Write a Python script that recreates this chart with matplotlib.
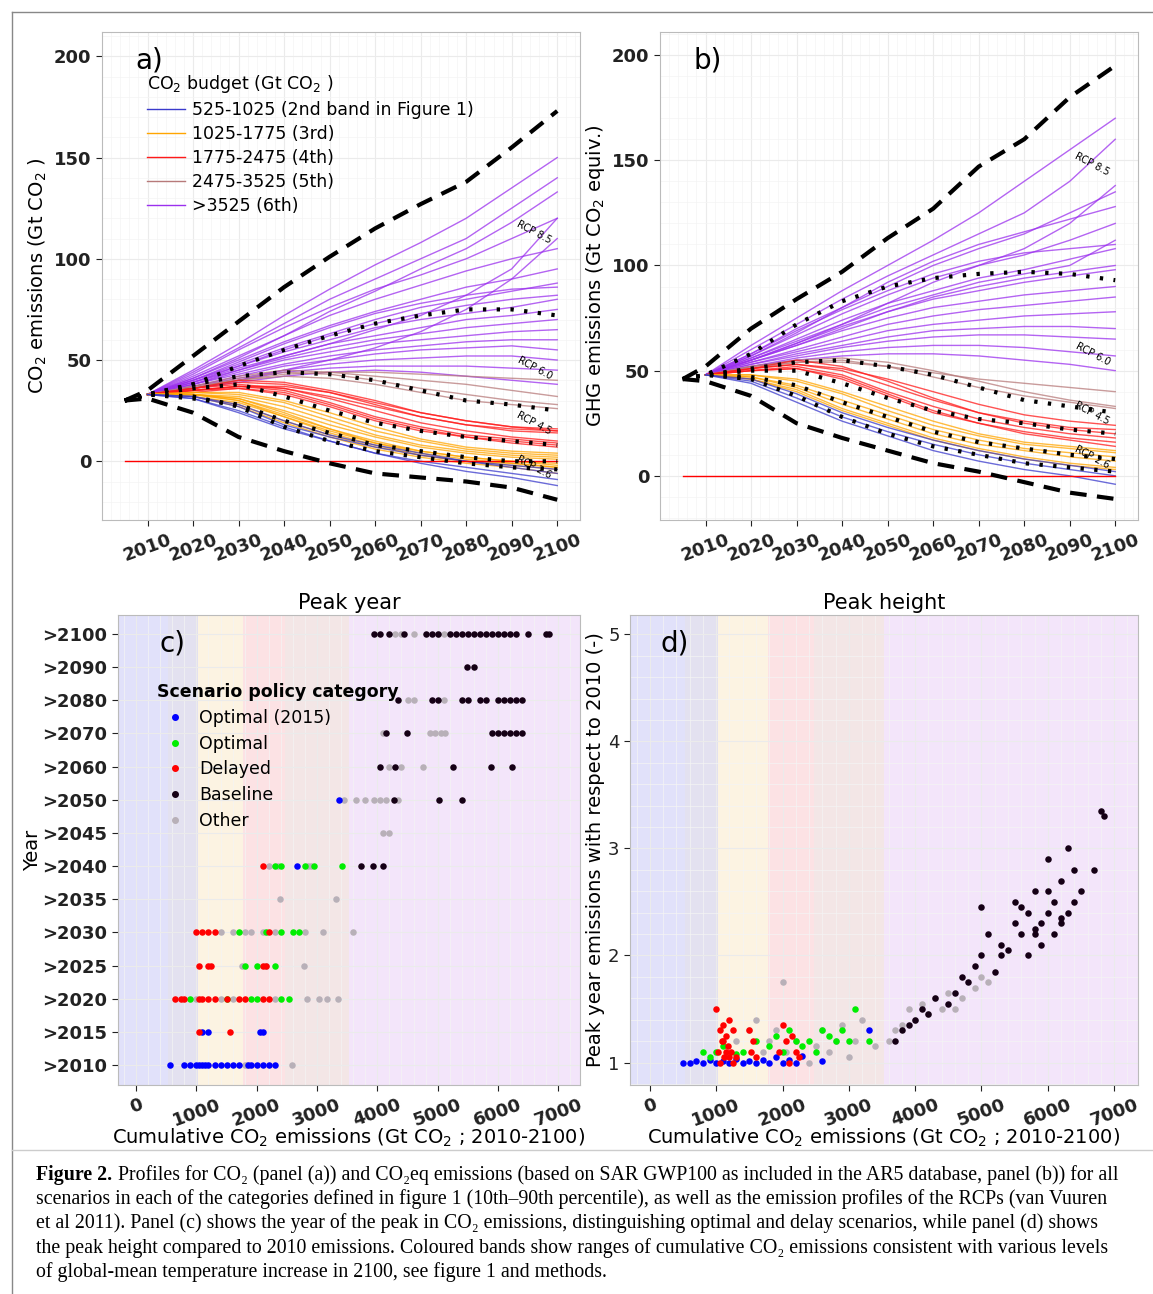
import matplotlib
matplotlib.use("Agg")
import matplotlib.pyplot as plt
from matplotlib.lines import Line2D

years = [2010, 2020, 2030, 2040, 2050, 2060, 2070, 2080, 2090, 2100]

# ---------- panel a data (Gt CO2) ----------
a_start = 30
a_upper = [35, 52, 69, 86, 101, 115, 127, 138, 155, 173]
a_lower = [31, 24, 12, 5, -1, -6, -8, -10, -13, -19]
a_rcp = {
    "RCP 8.5": [33, 38, 47, 55, 62, 68, 72, 75, 75, 72],
    "RCP 6.0": [33, 38, 42, 44, 43, 40, 35, 30, 28, 25],
    "RCP 4.5": [33, 36, 38, 32, 25, 19, 15, 12, 10, 8],
    "RCP 3.x": [33, 31, 28, 20, 14, 8, 5, 2, 0, 0],
    "RCP 2.6": [33, 32, 27, 17, 10, 5, 2, -1, -3, -4],
}
a_purple = [
    [33, 45, 58, 72, 85, 97, 108, 120, 135, 150], [33, 44, 56, 68, 80, 90, 100, 110, 125, 140],
    [33, 43, 55, 66, 76, 85, 92, 100, 110, 120], [33, 42, 52, 62, 72, 80, 87, 94, 100, 105],
    [33, 41, 50, 59, 67, 74, 80, 86, 90, 95], [33, 40, 48, 56, 63, 70, 76, 80, 84, 88],
    [33, 40, 47, 54, 60, 66, 70, 73, 76, 80], [33, 39, 46, 52, 58, 62, 66, 70, 72, 75],
    [33, 39, 45, 51, 56, 60, 63, 66, 68, 70], [33, 38, 44, 50, 54, 58, 60, 62, 64, 65],
    [33, 38, 43, 48, 52, 55, 57, 59, 60, 60], [33, 37, 42, 47, 50, 53, 55, 56, 57, 55],
    [33, 37, 41, 45, 48, 50, 51, 52, 52, 50], [33, 36, 40, 44, 46, 47, 47, 47, 46, 45],
    [33, 36, 39, 42, 44, 45, 44, 42, 40, 38], [33, 36, 40, 45, 50, 56, 64, 75, 90, 110],
    [33, 38, 45, 52, 58, 65, 72, 82, 95, 120], [33, 41, 51, 62, 74, 84, 95, 105, 118, 133],
    [33, 40, 49, 58, 66, 73, 78, 82, 85, 86], [33, 39, 47, 55, 62, 68, 73, 77, 80, 82],
]
a_brown = [
    [33, 37, 42, 45, 44, 42, 40, 38, 35, 32], [33, 36, 41, 44, 43, 40, 36, 33, 30, 28],
    [33, 37, 40, 42, 41, 38, 34, 30, 28, 26], [33, 36, 40, 43, 44, 44, 43, 42, 41, 40],
]
a_red = [
    [33, 36, 39, 38, 34, 28, 22, 18, 15, 14], [33, 36, 38, 36, 31, 25, 19, 15, 12, 10],
    [33, 35, 37, 35, 29, 22, 17, 13, 11, 9], [33, 35, 36, 33, 27, 20, 15, 12, 10, 8],
    [33, 35, 37, 36, 32, 27, 22, 18, 16, 15], [33, 34, 36, 34, 28, 21, 16, 12, 9, 7],
    [33, 35, 37, 37, 34, 29, 24, 20, 17, 16], [33, 36, 40, 39, 35, 30, 24, 20, 17, 15],
]
a_orange = [
    [33, 33, 31, 25, 18, 12, 7, 4, 2, 1], [33, 33, 30, 23, 16, 10, 5, 2, 0, -1],
    [33, 32, 29, 22, 15, 9, 5, 2, 0, -2], [33, 33, 32, 27, 20, 13, 8, 5, 3, 2],
    [33, 32, 28, 20, 13, 7, 3, 0, -2, -4], [33, 33, 31, 24, 16, 9, 4, 1, -1, -3],
    [33, 34, 33, 29, 22, 15, 10, 6, 4, 3], [33, 32, 27, 19, 12, 6, 2, -1, -3, -6],
    [33, 34, 34, 30, 24, 17, 11, 7, 5, 4], [33, 33, 30, 22, 14, 8, 3, 0, -1, -3],
]
a_blue = [
    [33, 31, 25, 17, 10, 4, 0, -3, -6, -9], [33, 32, 27, 18, 12, 7, 3, 0, -3, -6],
    [33, 31, 24, 16, 10, 4, -1, -5, -8, -12], [33, 32, 28, 20, 13, 8, 4, 0, -2, -4],
]

# ---------- panel b data (Gt CO2 equiv.) ----------
b_start = 46
b_upper = [52, 70, 84, 97, 113, 127, 147, 160, 180, 195]
b_lower = [45, 38, 25, 18, 12, 6, 2, -3, -8, -11]
b_rcp = {
    "RCP 8.5": [48, 58, 72, 83, 90, 94, 96, 97, 96, 93],
    "RCP 6.0": [48, 51, 54, 55, 52, 48, 42, 36, 33, 30],
    "RCP 4.5": [48, 50, 50, 44, 37, 31, 27, 25, 22, 20],
    "RCP 3.x": [48, 47, 43, 35, 28, 21, 16, 13, 10, 8],
    "RCP 2.6": [48, 46, 38, 28, 20, 14, 10, 6, 4, 2],
}
b_purple = [
    [48, 62, 75, 88, 100, 112, 125, 140, 155, 170], [48, 60, 72, 84, 95, 105, 115, 125, 140, 160],
    [48, 58, 70, 80, 90, 100, 108, 115, 125, 135], [48, 57, 67, 77, 86, 94, 100, 105, 112, 120],
    [48, 56, 65, 74, 82, 88, 94, 98, 103, 108], [48, 55, 63, 71, 78, 84, 88, 92, 95, 98],
    [48, 55, 62, 69, 75, 80, 83, 86, 88, 90], [48, 54, 60, 66, 72, 76, 79, 81, 83, 85],
    [48, 54, 59, 64, 69, 72, 74, 76, 77, 78], [48, 53, 58, 62, 66, 69, 70, 71, 71, 70],
    [48, 53, 57, 61, 64, 66, 67, 67, 66, 65], [48, 52, 56, 59, 61, 62, 62, 61, 59, 57],
    [48, 52, 55, 57, 58, 58, 57, 55, 53, 50], [48, 55, 63, 72, 82, 92, 100, 108, 120, 138],
    [48, 57, 68, 80, 92, 102, 110, 116, 122, 128], [48, 56, 64, 72, 80, 86, 92, 96, 100, 112],
    [48, 58, 69, 79, 88, 96, 102, 106, 108, 110], [48, 55, 62, 70, 78, 85, 90, 94, 97, 100],
]
b_brown = [
    [48, 52, 55, 56, 54, 50, 45, 40, 36, 33], [48, 51, 54, 55, 52, 47, 42, 38, 35, 32],
    [48, 52, 54, 54, 52, 49, 46, 44, 42, 40],
]
b_red = [
    [48, 51, 53, 50, 43, 36, 30, 26, 23, 22], [48, 50, 52, 48, 40, 33, 27, 23, 20, 18],
    [48, 50, 51, 46, 38, 30, 25, 21, 18, 16], [48, 51, 53, 51, 46, 40, 34, 29, 26, 24],
    [48, 50, 51, 47, 39, 31, 25, 20, 17, 14], [48, 51, 55, 52, 45, 37, 30, 25, 22, 20],
]
b_orange = [
    [48, 47, 43, 36, 29, 22, 17, 13, 11, 9], [48, 47, 42, 34, 27, 20, 15, 12, 9, 7],
    [48, 46, 41, 32, 25, 18, 13, 9, 6, 4], [48, 48, 45, 39, 31, 24, 19, 15, 13, 11],
    [48, 46, 40, 31, 24, 17, 12, 8, 5, 3], [48, 48, 46, 40, 33, 26, 20, 16, 14, 12],
]
b_blue = [
    [48, 45, 37, 28, 21, 15, 10, 6, 3, 0], [48, 44, 35, 26, 19, 12, 7, 3, 0, -4],
    [48, 46, 39, 30, 23, 17, 12, 8, 5, 2],
]

# ---------- panel c data (peak year category vs cumulative CO2) ----------
c_rows = [">2010", ">2015", ">2020", ">2025", ">2030", ">2035", ">2040",
          ">2045", ">2050", ">2060", ">2070", ">2080", ">2090", ">2100"]
c_blue = {
    ">2010": [560, 800, 900, 1000, 1050, 1100, 1150, 1200, 1300, 1400, 1500, 1600,
              1700, 1850, 1900, 2000, 2100, 2200, 2300],
    ">2015": [1100, 1200, 2050, 2100],
    ">2040": [2670],
    ">2050": [3370],
}
c_green = {
    ">2020": [900, 1500, 1900, 2000, 2400, 2540],
    ">2025": [1800, 2000, 2300],
    ">2030": [1700, 2150, 2400, 2600, 2700],
    ">2040": [2300, 2400, 2800, 2950, 3420],
}
c_red = {
    ">2015": [1050, 1550],
    ">2020": [650, 750, 800, 1050, 1100, 1200, 1300, 1500, 1700, 1800, 2100, 2200],
    ">2025": [1050, 1200, 1250, 2100, 2150],
    ">2030": [1000, 1100, 1200, 1300, 2200],
    ">2040": [2100],
}
c_grey = {
    ">2010": [1800, 1840, 2590],
    ">2020": [1000, 1400, 1600, 2300, 2830, 3030, 3160, 3350],
    ">2025": [1750, 2150, 2790],
    ">2030": [1400, 1600, 1800, 1900, 2100, 2300, 2800, 3100, 3600],
    ">2035": [2390, 3320],
    ">2040": [2200, 2350, 2850, 2900],
    ">2045": [4100, 4200],
    ">2050": [3450, 3650, 3800, 3950, 4050, 4150, 4350],
    ">2060": [4200, 4400, 4750],
    ">2070": [4100, 4870, 4950, 5050, 5120],
    ">2080": [4500, 4600, 5100],
    ">2100": [4300, 4400, 4600, 5000, 5100],
}
c_black = {
    ">2040": [3730, 3930, 4100],
    ">2050": [4280, 5030, 5400],
    ">2060": [4050, 4300, 5250, 5890, 6240],
    ">2070": [4150, 4490, 5900, 6000, 6100, 6200, 6300, 6400],
    ">2080": [4340, 4900, 5000, 5400, 5500, 5700, 5800, 6000, 6100, 6200, 6300, 6400],
    ">2090": [5490, 5600],
    ">2100": [3950, 4050, 4200, 4450, 4800, 4900, 5000, 5200, 5300, 5400, 5500,
              5600, 5700, 5800, 5900, 6000, 6100, 6200, 6300, 6500, 6800, 6850],
}

# ---------- panel d data (peak height relative to 2010) ----------
d_blue_x = [500, 600, 700, 800, 900, 1000, 1100, 1200, 1300, 1400, 1500, 1600, 1700,
            1800, 1900, 2000, 2100, 2200, 2300, 2600, 3300]
d_blue_y = [1.0, 1.0, 1.01, 1.0, 1.02, 1.0, 1.01, 1.0, 1.03, 1.0, 1.01, 1.0, 1.02,
            1.0, 1.05, 1.0, 1.02, 1.0, 1.06, 1.01, 1.3]
d_red_x = [1000, 1020, 1050, 1080, 1100, 1120, 1150, 1180, 1200, 1220, 1250, 1300, 1050,
           1100, 1150, 1200, 1250, 1500, 1520, 1550, 1600, 1950, 2000, 2050, 2100, 2150,
           2200, 2250]
d_red_y = [1.5, 1.1, 1.3, 1.2, 1.35, 1.05, 1.25, 1.15, 1.4, 1.1, 1.3, 1.05, 1.0, 1.2,
           1.1, 1.05, 1.0, 1.3, 1.1, 1.2, 1.05, 1.1, 1.35, 1.2, 1.0, 1.25, 1.1, 1.05]
d_green_x = [800, 900, 1000, 1100, 1300, 1400, 1600, 1800, 1900, 2000, 2100, 2200, 2300,
             2400, 2500, 2600, 2700, 2800, 2900, 3000, 3100, 3300]
d_green_y = [1.1, 1.05, 1.1, 1.15, 1.08, 1.1, 1.2, 1.15, 1.25, 1.1, 1.3, 1.2, 1.15, 1.2,
             1.1, 1.3, 1.25, 1.2, 1.3, 1.2, 1.5, 1.2]
d_grey_x = [1300, 1500, 1600, 1700, 1800, 1900, 2000, 2050, 2200, 2400, 2500, 2600, 2700,
            2800, 2900, 3000, 3100, 3200, 3400, 3600, 3700, 3800, 3900, 4000, 4100, 4200,
            4300, 4400, 4500, 4600, 4700, 4900, 5000, 5100]
d_grey_y = [1.2, 1.3, 1.4, 1.1, 1.2, 1.3, 1.75, 1.1, 1.2, 1.0, 1.15, 1.3, 1.1, 1.2, 1.35,
            1.05, 1.2, 1.4, 1.15, 1.2, 1.3, 1.35, 1.5, 1.4, 1.55, 1.45, 1.6, 1.5, 1.65,
            1.5, 1.6, 1.7, 1.8, 1.75]
d_black_x = [3700, 3800, 3900, 4000, 4100, 4200, 4300, 4500, 4600, 4700, 4800, 4900, 5000,
             5100, 5200, 5300, 5400, 5500, 5600, 5700, 5700, 5800, 5800, 5900, 5900, 6000,
             6000, 6100, 6100, 6200, 6200, 6300, 6300, 6400, 6400, 6500, 6700, 6800, 6850,
             5500, 5600, 5800, 6000, 6200, 5000, 5300]
d_black_y = [1.2, 1.3, 1.35, 1.4, 1.5, 1.45, 1.6, 1.55, 1.65, 1.8, 1.75, 1.9, 2.0, 2.2,
             1.85, 2.1, 2.05, 2.3, 2.2, 2.4, 2.0, 2.25, 2.6, 2.3, 2.1, 2.4, 2.6, 2.2, 2.5,
             2.35, 2.7, 2.4, 3.0, 2.5, 2.8, 2.6, 2.8, 3.35, 3.3, 2.5, 2.45, 2.2, 2.9, 2.3,
             2.45, 2.0]

# budget bands for panels c and d
band_edges = [-400, 525, 1025, 1775, 2475, 3525, 7500]
band_colors = ["#e1e1fa", "#e3e1f0", "#fcf3e2", "#fce2e4", "#f3e6e6", "#f3e5fa"]

budget_labels = ["525-1025 (2nd band in Figure 1)", "1025-1775 (3rd)", "1775-2475 (4th)",
                 "2475-3525 (5th)", ">3525 (6th)"]
line_cols = {"blue": "#3a3acc", "orange": "#ffa500", "red": "#ff1a1a",
             "brown": "#b77a7a", "purple": "#9b30ee"}

fig = plt.figure(figsize=(11.53, 12.94), dpi=100)
W, H = 1153, 1294


def ax_at(x0, y0, x1, y1):
    return fig.add_axes([x0 / W, 1 - y1 / H, (x1 - x0) / W, (y1 - y0) / H])


def style(ax):
    ax.grid(True, color="#ebebeb", lw=0.8)
    ax.minorticks_on()
    ax.grid(True, which="minor", color="#f4f4f4", lw=0.5)
    ax.set_axisbelow(True)
    for s in ax.spines.values():
        s.set_color("#bbbbbb")
    ax.tick_params(which="minor", length=0)
    ax.tick_params(colors="#222222", length=4)


def emissions_panel(ax, start, upper, lower, rcp, groups, ylim, rcp_lab_y, letter):
    style(ax)
    for name, lines in groups:
        for v in lines:
            ax.plot(years, v, color=line_cols[name], lw=1.0, alpha=0.75)
    ax.plot([2005, 2100], [0, 0], color="red", lw=1)
    ax.plot([2005] + years, [start] + upper, color="black", lw=3, ls=(0, (4, 2.5)))
    ax.plot([2005] + years, [start] + lower, color="black", lw=3, ls=(0, (4, 2.5)))
    for k, v in rcp.items():
        ax.plot([2005] + years, [start] + v, color="black", lw=3, ls=(0, (0.8, 2.5)))
    for lab, y in zip(["RCP 8.5", "RCP 6.0", "RCP 4.5", "RCP 2.6"], rcp_lab_y):
        ax.text(2095, y, lab, fontsize=7, rotation=-28, ha="center", va="center")
    ax.set_xlim(2000, 2105)
    ax.set_ylim(*ylim)
    ax.set_xticks(years)
    ax.set_xticklabels([str(y) for y in years], rotation=20, fontsize=13, fontweight="bold")
    ax.set_yticks([0, 50, 100, 150, 200])
    ax.tick_params(axis="y", labelsize=13)
    for t in ax.get_yticklabels():
        t.set_fontweight("bold")
    ax.text(0.07, 0.97, letter, transform=ax.transAxes, fontsize=20, va="top")


ax_a = ax_at(102, 32, 580, 520)
emissions_panel(ax_a, a_start, a_upper, a_lower, a_rcp,
                [("purple", a_purple), ("brown", a_brown), ("red", a_red),
                 ("orange", a_orange), ("blue", a_blue)],
                (-29, 212), [113, 46, 19, -3], "a)")
ax_a.set_ylabel("CO$_2$ emissions (Gt CO$_2$ )", fontsize=14)
handles = [Line2D([], [], color=line_cols[c], lw=1)
           for c in ["blue", "orange", "red", "brown", "purple"]]
leg = ax_a.legend(handles, budget_labels, title="CO$_2$ budget (Gt CO$_2$ )",
                  loc="upper left", bbox_to_anchor=(0.08, 0.93), fontsize=12.5,
                  title_fontsize=12.5, frameon=False, handlelength=2.2,
                  labelspacing=0.35, borderaxespad=0, handletextpad=0.4)
leg._legend_box.align = "left"

ax_b = ax_at(660, 32, 1138, 520)
emissions_panel(ax_b, b_start, b_upper, b_lower, b_rcp,
                [("purple", b_purple), ("brown", b_brown), ("red", b_red),
                 ("orange", b_orange), ("blue", b_blue)],
                (-21, 211), [148, 58, 30, 9], "b)")
ax_b.set_ylabel("GHG emissions (Gt CO$_2$ equiv.)", fontsize=14)

cat_cols = {"Optimal (2015)": "#0000ff", "Optimal": "#00ee00", "Delayed": "#ff0000",
            "Baseline": "#150015", "Other": "#b8b0b8"}


def bands(ax):
    for i in range(len(band_colors)):
        ax.axvspan(band_edges[i], band_edges[i + 1], color=band_colors[i], lw=0, zorder=0)


def cum_xaxis(ax):
    ax.set_xlim(-300, 7360)
    ax.set_xticks(range(0, 7001, 1000))
    ax.set_xticklabels([str(v) for v in range(0, 7001, 1000)], rotation=20,
                       fontsize=13, fontweight="bold")
    ax.set_xlabel("Cumulative CO$_2$ emissions (Gt CO$_2$ ; 2010-2100)", fontsize=14,
                  labelpad=-2)


ax_c = ax_at(118, 615, 580, 1085)
style(ax_c)
bands(ax_c)
for name, dat in [("Other", c_grey), ("Optimal (2015)", c_blue), ("Optimal", c_green),
                  ("Delayed", c_red), ("Baseline", c_black)]:
    for row, xs in dat.items():
        ax_c.scatter(xs, [c_rows.index(row)] * len(xs), s=22, color=cat_cols[name],
                     lw=0, zorder=3)
cum_xaxis(ax_c)
ax_c.set_ylim(-0.6, 13.57)
ax_c.set_yticks(range(len(c_rows)))
ax_c.set_yticklabels(c_rows, fontsize=13, fontweight="bold")
ax_c.yaxis.set_minor_locator(plt.NullLocator())
ax_c.set_ylabel("Year", fontsize=14, labelpad=0)
ax_c.set_title("Peak year", fontsize=15, pad=4)
ax_c.text(0.09, 0.97, "c)", transform=ax_c.transAxes, fontsize=20, va="top")
ch = [Line2D([], [], marker="o", ls="", color=c, markersize=4) for c in cat_cols.values()]
legc = ax_c.legend(ch, list(cat_cols.keys()), title="Scenario policy category",
                   loc="upper left", bbox_to_anchor=(0.07, 0.87), fontsize=12.5,
                   title_fontproperties={"weight": "bold", "size": 12.5}, frameon=False,
                   labelspacing=0.45, borderaxespad=0, handletextpad=0.4)
legc._legend_box.align = "left"

ax_d = ax_at(630, 615, 1138, 1085)
style(ax_d)
bands(ax_d)
for xs, ys, name in [(d_grey_x, d_grey_y, "Other"), (d_blue_x, d_blue_y, "Optimal (2015)"),
                     (d_green_x, d_green_y, "Optimal"), (d_red_x, d_red_y, "Delayed"),
                     (d_black_x, d_black_y, "Baseline")]:
    ax_d.scatter(xs, ys, s=22, color=cat_cols[name], lw=0, zorder=3)
cum_xaxis(ax_d)
ax_d.set_ylim(0.79, 5.18)
ax_d.set_yticks([1, 2, 3, 4, 5])
ax_d.tick_params(axis="y", labelsize=13)
ax_d.set_ylabel("Peak year emissions with respect to 2010 (-)", fontsize=14, labelpad=2)
ax_d.set_title("Peak height", fontsize=15, pad=4)
ax_d.text(0.06, 0.97, "d)", transform=ax_d.transAxes, fontsize=20, va="top")

# frame and caption
fig.add_artist(Line2D([12 / W, 12 / W], [0, 1 - 12 / H], color="#888888", lw=1))
fig.add_artist(Line2D([12 / W, 1], [1 - 12 / H, 1 - 12 / H], color="#888888", lw=1))
fig.add_artist(Line2D([12 / W, 1], [1 - 1150 / H, 1 - 1150 / H], color="#cccccc", lw=1))
serif = ["Liberation Serif", "DejaVu Serif"]
cap = [
    "Profiles for CO\u2082 (panel (a)) and CO\u2082eq emissions (based on SAR GWP100 as included in the AR5 database, panel (b)) for all",
    "scenarios in each of the categories defined in figure 1 (10th\u201390th percentile), as well as the emission profiles of the RCPs (van Vuuren",
    "et al 2011). Panel (c) shows the year of the peak in CO\u2082 emissions, distinguishing optimal and delay scenarios, while panel (d) shows",
    "the peak height compared to 2010 emissions. Coloured bands show ranges of cumulative CO\u2082 emissions consistent with various levels",
    "of global-mean temperature increase in 2100, see figure 1 and methods.",
]
fig.text(36 / W, 1 - 1175 / H, "Figure 2.", family=serif, fontweight="bold",
         fontsize=14.3, va="center")
for i, line in enumerate(cap):
    x0 = 118 if i == 0 else 36
    fig.text(x0 / W, 1 - (1175 + 24.2 * i) / H, line, family=serif, fontsize=14.3,
             va="center")

fig.savefig("out.png", dpi=100)
